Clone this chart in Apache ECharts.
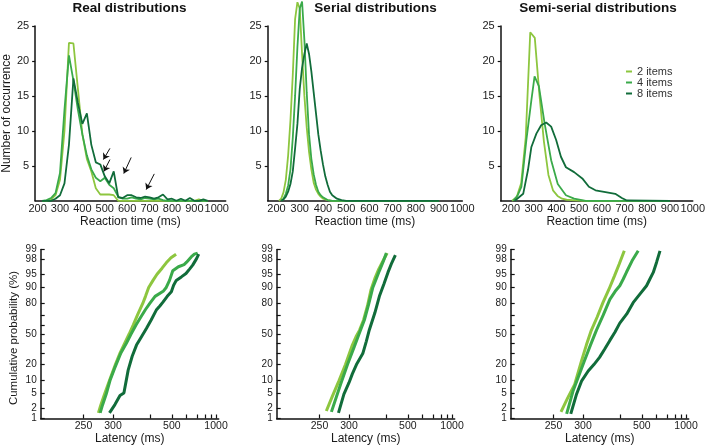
<!DOCTYPE html>
<html><head><meta charset="utf-8">
<script src="https://cdn.jsdelivr.net/npm/echarts@6/dist/echarts.min.js"></script>
<style>html,body{margin:0;padding:0;background:#fff}#c{width:708px;height:447px}</style>
</head><body><div id="c"></div>
<script>
// ---------- DATA ----------
const seriesNames = ['2 items', '4 items', '8 items'];
const panelTitles = ['Real distributions', 'Serial distributions', 'Semi-serial distributions'];
const rtTickLabels = [200, 300, 400, 500, 600, 700, 800, 900, 1000];
const countTickLabels = [5, 10, 15, 20, 25];
const latencyTickLabels = [250, 300, 500, 1000];
const latencyTicks = [250, 300, 400, 500, 600, 700, 800, 900, 1000];
const pctTickLabels = [1, 2, 5, 10, 20, 50, 80, 90, 95, 98, 99];
const pctTicks = [1, 2, 5, 10, 20, 30, 40, 50, 60, 70, 80, 90, 95, 98, 99];

// Real distributions: 20 ms bins
const realX = [220,240,260,280,300,320,340,360,380,400,420,440,460,480,500,520,540,560,580,600,620,640,660,680,700,720,740,760,780,800,820,840,860,880,900,920,940,960];
const real2 = [0,0,0.2,0.8,3,10,22.6,22.5,16,9.5,6,4.2,1.8,0.9,0.9,0.9,0.8,0,0,0,0,0,0,0,0,0,0,0,0,0,0,0,0,0,0,0.2,0,0];
const real4 = [0,0.1,0.4,1.1,4,13,20.8,17.2,13,9.5,6.5,4.5,3.3,2.8,3.3,2.3,1.8,0.6,0.3,0.3,0.5,0.3,0.2,0.4,0.3,0.2,0.3,0.1,0,0,0,0,0,0,0,0,0,0];
const real8 = [0,0,0,0.3,0.8,2.5,8,17.5,14,11,12.5,8,5.5,5.2,3.5,2.5,4.2,0.5,0.4,0.8,0.8,0.5,0.4,0.6,0.5,0.3,0.5,0.9,0.2,0.3,0,0.3,0,0.4,0,0,0.2,0];
// annotation arrows [tail, head] in data units of the real-distribution panel
const arrowMarks = [[[523,7.5],[494,5.9]], [[523,5.9],[496,4.2]], [[618,6.2],[585,3.9]], [[721,3.85],[685,1.6]]];

// Serial distributions [ms, count]
const serial2 = [[210,0],[220,0.3],[230,1.2],[240,3],[250,6.5],[260,11.5],[270,18],[280,26],[290,28.4],[300,27.5],[310,21],[320,15],[330,10.5],[340,7],[350,4.5],[360,2.6],[370,1.6],[380,1],[390,0.6],[400,0.3],[420,0.1],[440,0],[900,0]];
const serial4 = [[220,0],[230,0.3],[240,1],[250,2.2],[260,4.5],[270,9],[280,15],[290,22],[300,27.5],[310,28.5],[320,23],[330,15.5],[340,9.5],[350,6],[360,3.8],[370,2.3],[380,1.3],[390,0.8],[400,0.5],[420,0.1],[440,0],[900,0]];
const serial8 = [[220,0],[230,0.2],[240,0.6],[250,1.3],[260,2.4],[270,4.2],[280,7.5],[290,11],[300,16],[310,19],[320,21],[330,22.5],[340,21],[350,18.5],[360,15.5],[370,12.5],[380,9.5],[390,7.2],[400,5.2],[410,3.5],[420,2.3],[430,1.3],[440,0.8],[460,0.3],[480,0.1],[500,0],[900,0]];

// Semi-serial distributions [ms, count]
const semi2 = [[205,0],[225,0.5],[245,2.5],[265,9],[285,24.1],[305,23.3],[325,15.3],[345,8.5],[365,3.7],[385,1.5],[405,0.7],[425,0.3],[445,0.15],[485,0.05],[525,0],[900,0]];
const semi4 = [[210,0],[230,0.8],[246,2],[268,8.7],[290,14.4],[304,17.8],[323,16.4],[348,11.1],[377,5.8],[406,2.4],[442,0.8],[478,0.3],[529,0],[900,0]];
const semi8 = [[217,0],[254,1],[275,4.4],[290,7.7],[312,9.6],[333,10.8],[355,11.2],[377,10.6],[399,8.7],[420,6.3],[442,4.8],[478,4.1],[514,3.2],[543,2],[572,1.5],[616,1.25],[659,1],[688,0.4],[710,0.05],[900,0]];

// Cumulative distributions [latency ms, cumulative %]
const cdfReal2 = [[273,1.5],[277,2.5],[284,5],[293,10],[305,20],[315,30],[326,40],[337,50],[348,60],[360,70],[376,80],[385,85],[396,90],[412,93],[428,95],[450,96.5],[470,97.5],[495,98.2],[525,98.6]];
const cdfReal4 = [[276,1.5],[280,2.5],[287,5],[294,10],[303,17],[317,30],[330,40],[342,50],[356,60],[370,68],[385,75],[400,80],[420,85],[455,88],[470,90],[487,93],[505,95.9],[540,96.8],[580,97.2],[600,97.6],[640,98.3],[671,98.6],[706,98.7]];
const cdfReal8 = [[293,1.5],[304,2.6],[315,4.5],[324,5.2],[334.5,16],[345,27],[357,38],[372,47],[388,56],[405,65],[425,74.5],[440,78],[455,81.2],[475,85],[497,87.7],[510,91],[526,93],[560,94.2],[595,95.2],[625,96.3],[654,97.1],[694,98.1],[718,98.6]];
const cdfSerial2 = [[260,1.7],[270,4.5],[281,10],[293,20],[307,38],[315,47],[323,54],[333,65],[343,78],[353,89],[365,94],[376,96.3],[390,97.8],[405,98.7]];
const cdfSerial4 = [[268,1.6],[276,4],[284,8.4],[297,20],[311,36],[322,50],[335,65],[346,79],[358,90],[368,93.5],[378,95.9],[390,97.6],[402,98.7]];
const cdfSerial8 = [[280,1.5],[290,4.9],[300,9],[307,13.6],[317,20.7],[331,29.5],[340,42],[348,54.4],[364,72],[378,85],[393,91.5],[408,95.5],[423,97.5],[438,98.5]];
const cdfSemi2 = [[261,1.6],[272,4],[284,8.3],[297,23],[307,38],[318,54],[332,68],[347,80.6],[364,89],[382,94.6],[398,97.3],[417,98.9]];
const cdfSemi4 = [[270,1.4],[281,5.8],[291,12],[303,23],[316,38],[330,54],[348,70],[367,83],[384,88],[400,90.8],[413,93.5],[426,95.6],[450,97.8],[480,98.9]];
const cdfSemi8 = [[277,1.4],[287,4.7],[297,9.7],[311,15.4],[324,20],[338,26],[352,34],[367,43],[383,52],[400,61.8],[427,71],[455,80.6],[490,86.5],[528,90.8],[550,93.5],[574,95.5],[600,97.6],[629,98.9]];

// ---------- STYLE / SCALES ----------
const colors = ['#8dc63f', '#3aaa4a', '#116c3a'];
const FONT = 'Liberation Sans, Arial, Helvetica, sans-serif';
const TXT = '#1a1a1a';

// probit (inverse normal CDF, Acklam) for the probability axis
function probit(p) {
  const a=[-3.969683028665376e+01,2.209460984245205e+02,-2.759285104469687e+02,1.383577518672690e+02,-3.066479806614716e+01,2.506628277459239e+00];
  const b=[-5.447609879822406e+01,1.615858368580409e+02,-1.556989798598866e+02,6.680131188771972e+01,-1.328068155288572e+01];
  const c=[-7.784894002430293e-03,-3.223964580411365e-01,-2.400758277161838e+00,-2.549671010173008e+00,4.374664141464968e+00,2.938163982698783e+00];
  const d=[7.784695709041462e-03,3.224671290700398e-01,2.445134137142996e+00,3.754408661907416e+00];
  const pl=0.02425; let q, r;
  if (p < pl) { q=Math.sqrt(-2*Math.log(p)); return (((((c[0]*q+c[1])*q+c[2])*q+c[3])*q+c[4])*q+c[5])/((((d[0]*q+d[1])*q+d[2])*q+d[3])*q+1); }
  if (p <= 1-pl) { q=p-0.5; r=q*q; return (((((a[0]*r+a[1])*r+a[2])*r+a[3])*r+a[4])*r+a[5])*q/(((((b[0]*r+b[1])*r+b[2])*r+b[3])*r+b[4])*r+1); }
  q=Math.sqrt(-2*Math.log(1-p)); return -(((((c[0]*q+c[1])*q+c[2])*q+c[3])*q+c[4])*q+c[5])/((((d[0]*q+d[1])*q+d[2])*q+d[3])*q+1);
}
const zOf = pct => probit(pct / 100);
const recip = ms => -1000 / ms;   // reciprocal latency axis
const pctLabelMap = new Map(pctTickLabels.map(p => [zOf(p).toFixed(6), p]));

// ---------- LAYOUT ----------
const topGrids = [
  {left: 32.5, top: 26, width: 193.2, height: 174.8, xmin: 189, xmax: 1040},
  {left: 267.7, top: 26, width: 194.6, height: 174.8, xmin: 162, xmax: 1000},
  {left: 500.7, top: 26, width: 194.3, height: 174.8, xmin: 155, xmax: 1000}
];
const botLefts = [40.7, 276.7, 510.7];
const botTop = 249.5, botHeight = 169, botWidth = 178;
const titleX = [129.5, 375.5, 598];

const grids = [], xAxes = [], yAxes = [], series = [];
const axisLineStyle = {color: '#111', width: 1.5};

topGrids.forEach((g, i) => {
  grids.push({left: g.left, top: g.top, width: g.width, height: g.height});
  xAxes.push({
    type: 'value', gridIndex: i, min: g.xmin, max: g.xmax,
    axisLine: {show: true, onZero: false, lineStyle: axisLineStyle},
    axisTick: {show: false},
    splitLine: {show: false},
    axisLabel: {customValues: rtTickLabels, margin: 2.5, fontSize: 11, color: TXT, fontFamily: FONT,
      hideOverlap: false, showMinLabel: true, showMaxLabel: true, formatter: v => String(Math.round(v))},
    name: 'Reaction time (ms)', nameLocation: 'middle', nameGap: 13,
    nameTextStyle: {fontSize: 12, color: TXT, fontFamily: FONT}
  });
  yAxes.push({
    type: 'value', gridIndex: i, min: 0, max: 25,
    axisLine: {show: true, onZero: false, lineStyle: axisLineStyle},
    axisTick: {show: true, customValues: countTickLabels, length: 3, lineStyle: {color: '#111', width: 1.2}},
    splitLine: {show: false},
    axisLabel: {customValues: countTickLabels, margin: 6, fontSize: 11, color: TXT, fontFamily: FONT,
      showMinLabel: true, showMaxLabel: true},
    name: i === 0 ? 'Number of occurrence' : '', nameLocation: 'middle', nameGap: 13,
    nameTextStyle: {fontSize: 12, color: TXT, fontFamily: FONT}
  });
});

botLefts.forEach((left, j) => {
  const gi = 3 + j;
  grids.push({left: left, top: botTop, width: botWidth, height: botHeight});
  xAxes.push({
    type: 'value', gridIndex: gi, min: -4.97, max: -0.94,
    axisLine: {show: true, onZero: false, lineStyle: axisLineStyle},
    axisTick: {show: true, inside: true, length: 4, customValues: latencyTicks.map(recip), lineStyle: {color: '#111', width: 1.2}},
    splitLine: {show: false},
    axisLabel: {customValues: latencyTickLabels.map(recip), margin: 2.5, fontSize: 10.5, color: TXT, fontFamily: FONT,
      showMinLabel: true, showMaxLabel: true, formatter: v => String(Math.round(-1000 / v))},
    name: 'Latency (ms)', nameLocation: 'middle', nameGap: 14,
    nameTextStyle: {fontSize: 12, color: TXT, fontFamily: FONT}
  });
  yAxes.push({
    type: 'value', gridIndex: gi, min: zOf(1), max: zOf(99),
    axisLine: {show: true, onZero: false, lineStyle: axisLineStyle},
    axisTick: {show: true, inside: true, length: 4, customValues: pctTicks.map(zOf), lineStyle: {color: '#111', width: 1.2}},
    splitLine: {show: false},
    axisLabel: {customValues: pctTickLabels.map(zOf), margin: 4, fontSize: 10, color: TXT, fontFamily: FONT,
      hideOverlap: false, showMinLabel: true, showMaxLabel: true,
      formatter: v => { const p = pctLabelMap.get(Number(v).toFixed(6)); return p === undefined ? '' : String(p); }},
    name: j === 0 ? 'Cumulative probability (%)' : '', nameLocation: 'middle', nameGap: 21,
    nameTextStyle: {fontSize: 11.5, color: TXT, fontFamily: FONT, padding: [0, 8, 0, 0]}
  });
});

function lineSeries(name, idx, gi, data, width, extra) {
  return Object.assign({
    type: 'line', name: name, xAxisIndex: gi, yAxisIndex: gi, data: data,
    showSymbol: false, symbol: 'none', clip: false, smooth: false,
    lineStyle: {color: colors[idx], width: width}, itemStyle: {color: colors[idx]},
    emphasis: {disabled: true}, z: 2 + idx
  }, extra || {});
}

const realSets = [real2, real4, real8];
realSets.forEach((vals, k) => {
  const extra = k === 2 ? {markLine: {
    silent: true, symbol: ['none', 'arrow'], symbolSize: 6, animation: false,
    label: {show: false}, lineStyle: {color: '#111', width: 1, type: 'solid'},
    data: arrowMarks.map(m => [{coord: m[0]}, {coord: m[1]}])
  }} : null;
  series.push(lineSeries(seriesNames[k], k, 0, realX.map((x, i) => [x, vals[i]]), 1.8, extra));
});
[serial2, serial4, serial8].forEach((d, k) => series.push(lineSeries(seriesNames[k], k, 1, d, 1.8)));
[semi2, semi4, semi8].forEach((d, k) => series.push(lineSeries(seriesNames[k], k, 2, d, 1.8)));

const cdfPanels = [[cdfReal2, cdfReal4, cdfReal8], [cdfSerial2, cdfSerial4, cdfSerial8], [cdfSemi2, cdfSemi4, cdfSemi8]];
cdfPanels.forEach((sets, j) => sets.forEach((d, k) => {
  series.push(lineSeries(seriesNames[k], k, 3 + j, d.map(pt => [recip(pt[0]), zOf(pt[1])]), 3));
}));

const option = {
  animation: false,
  backgroundColor: '#fff',
  title: panelTitles.map((t, i) => ({
    text: t, left: titleX[i], top: 1.5, textAlign: 'center', padding: 0,
    textStyle: {fontSize: 13.5, fontWeight: 'bold', color: '#111', fontFamily: FONT}
  })),
  legend: {
    data: seriesNames, orient: 'vertical', left: 626, top: 66, padding: 0,
    icon: 'rect', itemWidth: 6, itemHeight: 2, itemGap: 0, selectedMode: false,
    textStyle: {fontSize: 11, lineHeight: 10, color: '#333', fontFamily: FONT}
  },
  grid: grids, xAxis: xAxes, yAxis: yAxes, series: series
};

echarts.init(document.getElementById('c'), null, {renderer: 'canvas'}).setOption(option);
</script></body></html>
